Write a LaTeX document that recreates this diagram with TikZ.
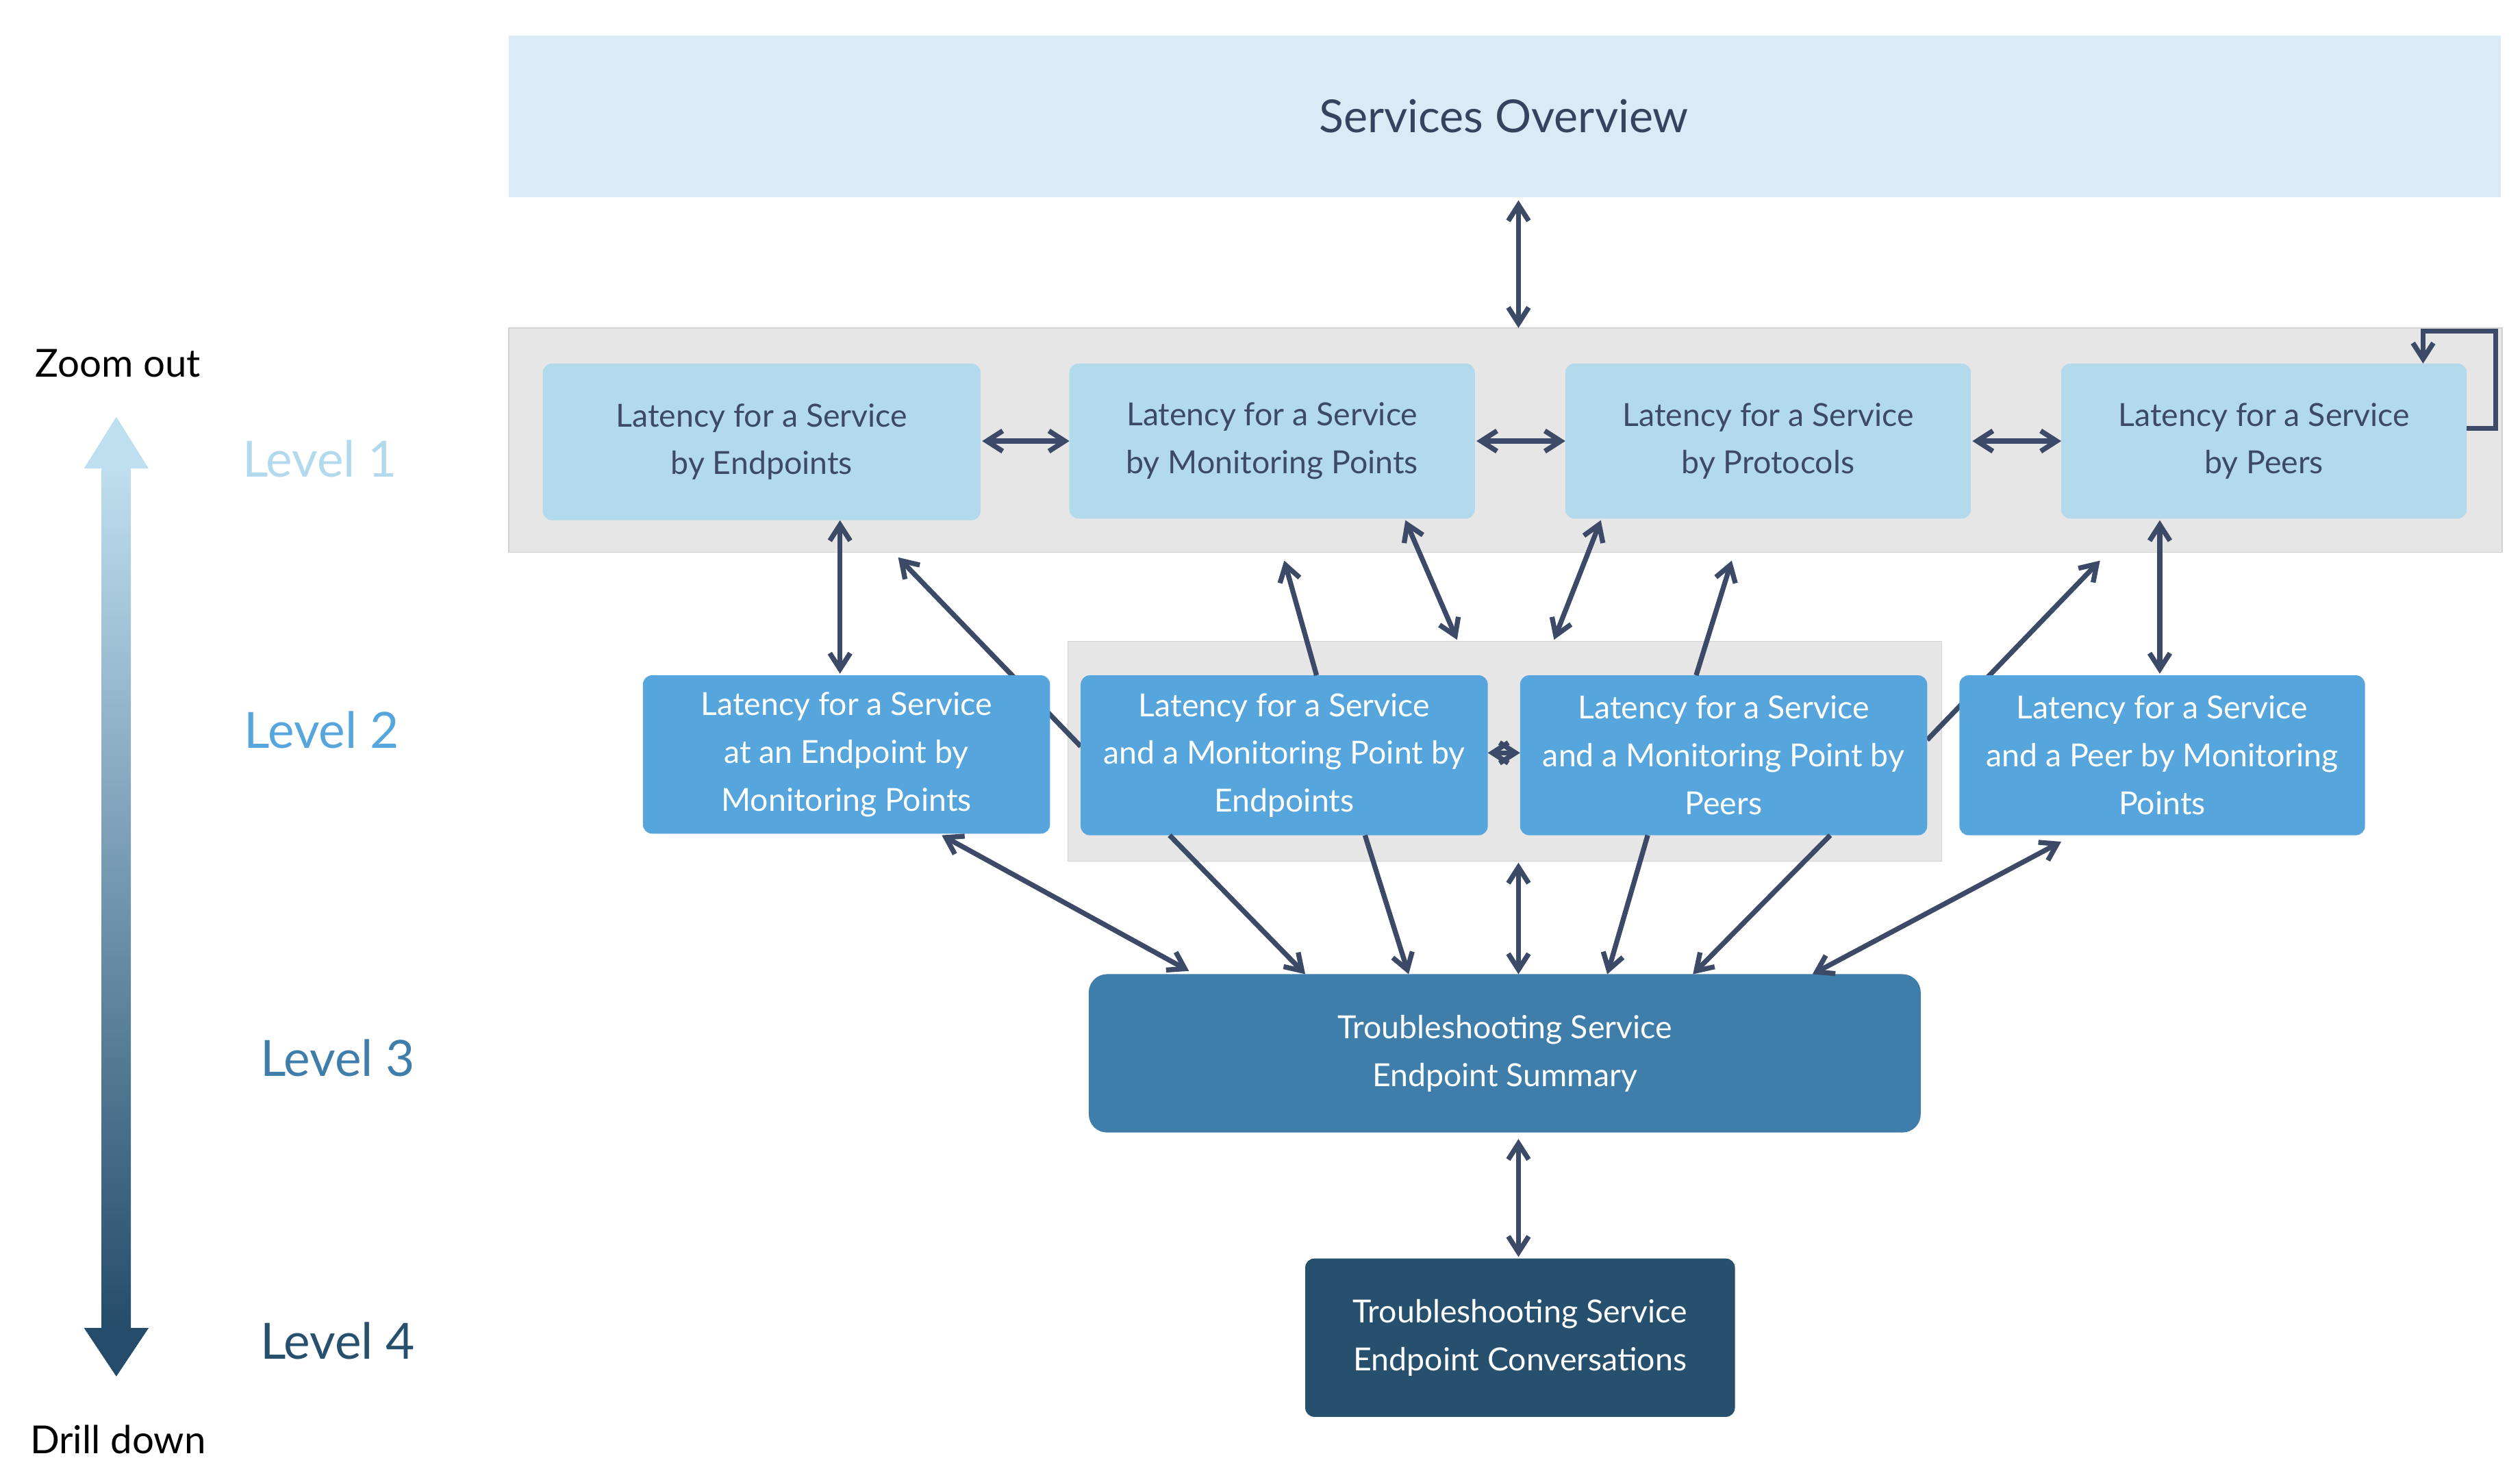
\documentclass[tikz,border=0pt]{standalone}
\usepackage{fontspec}
\setmainfont{Lato}
\usetikzlibrary{arrows.meta}
\definecolor{lvlone}{HTML}{B3D9ED}
\definecolor{lvltwo}{HTML}{56A5DC}
\definecolor{lvlthree}{HTML}{3F7EAB}
\definecolor{lvlfour}{HTML}{27506F}
\definecolor{overview}{HTML}{DAEAF6}
\definecolor{navy}{HTML}{3C4A68}
\definecolor{panel}{HTML}{E6E6E6}
\tikzset{
  box/.style={rounded corners=4pt,inner sep=0pt,align=center,font=\fontsize{14}{21}\selectfont},
  link/.style={navy,line width=2.2pt,{Straight Barb[length=7pt,width=9pt]}-{Straight Barb[length=7pt,width=9pt]}},
  down/.style={navy,line width=2.2pt,-{Straight Barb[length=7pt,width=9pt]}},
  lvl/.style={font=\fontsize{22}{24}\selectfont},
}
\begin{document}
\begin{tikzpicture}[x=0.025cm,y=-0.025cm]
  \useasboundingbox (0,0) rectangle (1560,917);
  % panels
  \fill[overview] (315,22) rectangle (1548,122);
  \node[font=\fontsize{20}{24}\selectfont,text=navy!90!black] (so) at (931,72) {Services Overview};
  \draw[panel!80!gray,fill=panel] (315,203) rectangle (1549,342);
  \draw[panel!80!gray,fill=panel] (661,397) rectangle (1202,533);
  % level 1
  \draw[box,fill=lvlone,draw=none] (336,225) rectangle (607,322) node[midway,text=navy] (a1) {Latency for a Service\\by Endpoints};
  \draw[box,fill=lvlone,draw=none] (662,225) rectangle (913,321) node[midway,text=navy] (b1) {Latency for a Service\\by Monitoring Points};
  \draw[box,fill=lvlone,draw=none] (969,225) rectangle (1220,321) node[midway,text=navy] (c1) {Latency for a Service\\by Protocols};
  \draw[box,fill=lvlone,draw=none] (1276,225) rectangle (1527,321) node[midway,text=navy] (d1) {Latency for a Service\\by Peers};
  % links behind level 2
  \coordinate (p1) at (556,345);
  \coordinate (p2) at (1300,347);
  \draw[down] (669,462) -- (p1);
  \draw[down] (1193,458) -- (p2);
  % level 2
  \draw[box,fill=lvltwo,draw=none] (398,418) rectangle (650,516) node[midway,text=white] (a2) {Latency for a Service\\at an Endpoint by\\Monitoring Points};
  \draw[box,fill=lvltwo,draw=none] (669,418) rectangle (921,517) node[midway,text=white] (b2) {Latency for a Service\\and a Monitoring Point by\\Endpoints};
  \draw[box,fill=lvltwo,draw=none] (941,418) rectangle (1193,517) node[midway,text=white] (c2) {Latency for a Service\\and a Monitoring Point by\\Peers};
  \draw[box,fill=lvltwo,draw=none] (1213,418) rectangle (1464,517) node[midway,text=white] (d2) {Latency for a Service\\and a Peer by Monitoring\\Points};
  % level 3 and 4
  \draw[box,rounded corners=8pt,fill=lvlthree,draw=none] (674,603) rectangle (1189,701) node[midway,text=white] (l3) {Troubleshooting Service\\Endpoint Summary};
  \draw[box,fill=lvlfour,draw=none] (808,779) rectangle (1074,877) node[midway,text=white] (l4) {Troubleshooting Service\\Endpoint Conversations};
  % connectors
  \draw[link] (940,124) -- (940,203);
  \draw[link] (608,273) -- (662,273);
  \draw[link] (914,273) -- (969,273);
  \draw[link] (1221,273) -- (1276,273);
  \draw[down] (1527,265) -- (1545,265) -- (1545,205) -- (1500,205) -- (1500,225);
  \draw[link] (520,322) -- (520,417);
  \draw[link] (1337,322) -- (1337,417);
  \draw[down] (815,418) -- (795,347);
  \draw[down] (1050,418) -- (1072,347);
  \draw[link] (870,322) -- (902,396);
  \draw[link] (991,322) -- (962,396);
  \draw[link] (921,466) -- (941,466);
  \draw[link] (583,517) -- (736,601);
  \draw[down] (724,517) -- (808,603);
  \draw[down] (845,517) -- (872,603);
  \draw[link] (940,534) -- (940,603);
  \draw[down] (1020,517) -- (995,603);
  \draw[down] (1133,517) -- (1048,603);
  \draw[link] (1276,521) -- (1122,603);
  \draw[link] (940,705) -- (940,778);
  % zoom scale
  \shade[top color=lvlone!85!white,bottom color=lvlfour!95!black] (63,290) rectangle (81,822);
  \fill[lvlone!85!white] (52,290) -- (92,290) -- (72,258) -- cycle;
  \fill[lvlfour!95!black] (52,822) -- (92,822) -- (72,852) -- cycle;
  \node[font=\fontsize{17}{20}\selectfont] (zo) at (73,225) {Zoom out};
  \node[font=\fontsize{17}{20}\selectfont] (dd) at (73,891) {Drill down};
  \node[lvl,text=lvlone] (t1) at (198,284) {Level 1};
  \node[lvl,text=lvltwo] (t2) at (199,452) {Level 2};
  \node[lvl,text=lvlthree] (t3) at (209,655) {Level 3};
  \node[lvl,text=lvlfour] (t4) at (209,830) {Level 4};
\end{tikzpicture}
\end{document}
